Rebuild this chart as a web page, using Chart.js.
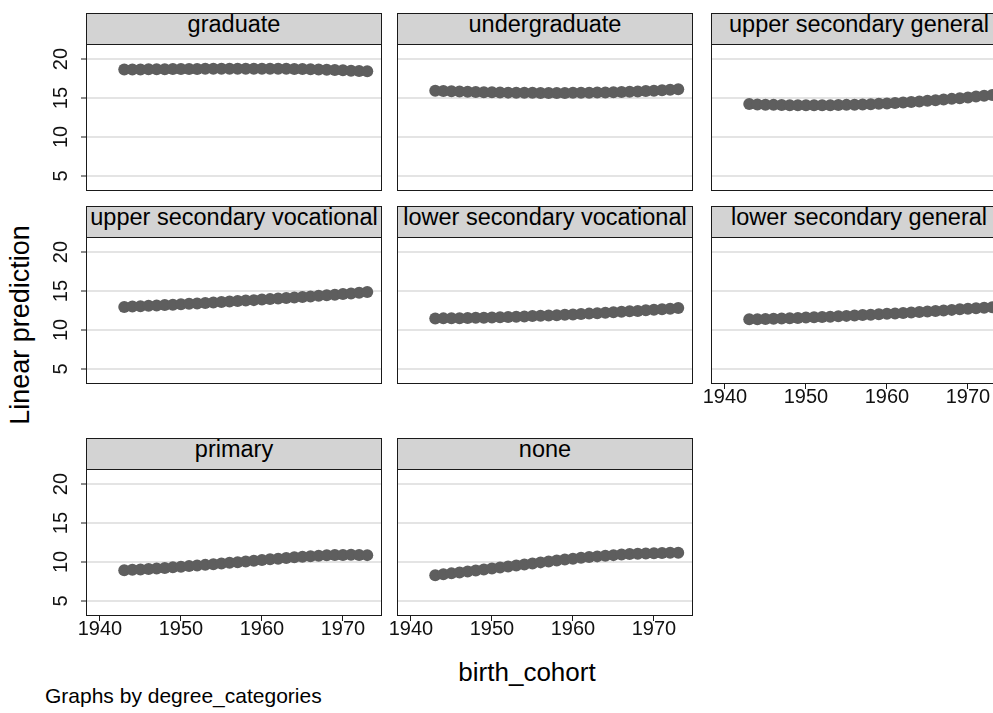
<!DOCTYPE html>
<html>
<head>
<meta charset="utf-8">
<script src="https://cdn.jsdelivr.net/npm/chart.js@4.4.1/dist/chart.umd.min.js"></script>
<style>
  html, body { margin: 0; padding: 0; background: #fff; overflow: hidden; width: 993px; height: 713px; }
  body { position: relative; font-family: "Liberation Sans", Arial, sans-serif; color: #000; }
  canvas { position: absolute; }
  .strip {
    position: absolute; box-sizing: border-box; width: 296px; height: 32px;
    background: #d3d3d3; border: 1px solid #1a1a1a;
    text-align: center; font-size: 23.5px; line-height: 20px; white-space: nowrap; overflow: hidden;
  }
  .ytitle { position: absolute; left: -180px; top: 310px; width: 400px; height: 30px; line-height: 30px;
    font-size: 27px; text-align: center; transform: rotate(-90deg); }
  .xtitle { position: absolute; left: 327px; top: 657px; width: 400px; line-height: 30px; font-size: 26px; text-align: center; }
  .note { position: absolute; left: 45px; top: 684px; line-height: 24px; font-size: 21px; white-space: nowrap; }
</style>
</head>
<body>
<div class="ytitle">Linear prediction</div>
<div class="xtitle">birth_cohort</div>
<div class="note">Graphs by degree_categories</div>
<script>
const years = [1943, 1944, 1945, 1946, 1947, 1948, 1949, 1950, 1951, 1952, 1953, 1954, 1955, 1956, 1957, 1958,
  1959, 1960, 1961, 1962, 1963, 1964, 1965, 1966, 1967, 1968, 1969, 1970, 1971, 1972, 1973];

const categories = ["graduate", "undergraduate", "upper secondary general", "upper secondary vocational",
  "lower secondary vocational", "lower secondary general", "primary", "none"];

const graduate = [18.65, 18.66, 18.67, 18.68, 18.69, 18.70, 18.71, 18.72, 18.72, 18.73, 18.74, 18.74, 18.75, 18.75, 18.76, 18.76,
  18.76, 18.76, 18.76, 18.75, 18.74, 18.73, 18.71, 18.69, 18.66, 18.63, 18.59, 18.55, 18.51, 18.47, 18.43];
const undergraduate = [15.92, 15.89, 15.86, 15.83, 15.80, 15.77, 15.75, 15.73, 15.71, 15.69, 15.68, 15.67, 15.66, 15.65, 15.65, 15.65,
  15.65, 15.66, 15.67, 15.68, 15.70, 15.72, 15.75, 15.78, 15.81, 15.85, 15.89, 15.94, 15.99, 16.05, 16.12];
const upperSecGeneral = [14.22, 14.18, 14.15, 14.12, 14.10, 14.08, 14.07, 14.06, 14.06, 14.07, 14.08, 14.10, 14.12, 14.15, 14.18, 14.21,
  14.25, 14.30, 14.36, 14.42, 14.49, 14.56, 14.64, 14.72, 14.80, 14.89, 14.98, 15.08, 15.18, 15.29, 15.40];
const upperSecVocational = [12.95, 13.00, 13.05, 13.10, 13.15, 13.20, 13.25, 13.30, 13.36, 13.41, 13.47, 13.53, 13.59, 13.65, 13.71, 13.77,
  13.83, 13.90, 13.96, 14.03, 14.10, 14.17, 14.24, 14.31, 14.38, 14.46, 14.53, 14.61, 14.69, 14.77, 14.87];
const lowerSecVocational = [11.48, 11.49, 11.50, 11.52, 11.54, 11.56, 11.58, 11.61, 11.64, 11.67, 11.70, 11.74, 11.78, 11.82, 11.86, 11.90,
  11.95, 12.00, 12.05, 12.10, 12.15, 12.21, 12.27, 12.33, 12.39, 12.45, 12.52, 12.59, 12.66, 12.73, 12.82];
const lowerSecGeneral = [11.37, 11.39, 11.42, 11.45, 11.48, 11.51, 11.55, 11.59, 11.63, 11.67, 11.71, 11.76, 11.81, 11.86, 11.91, 11.96,
  12.01, 12.07, 12.13, 12.19, 12.25, 12.31, 12.38, 12.44, 12.51, 12.58, 12.65, 12.72, 12.79, 12.86, 12.93];
const primary = [8.95, 9.00, 9.05, 9.11, 9.17, 9.24, 9.31, 9.39, 9.47, 9.55, 9.63, 9.72, 9.80, 9.89, 9.98, 10.07,
  10.16, 10.25, 10.34, 10.43, 10.52, 10.60, 10.67, 10.74, 10.80, 10.85, 10.89, 10.91, 10.92, 10.91, 10.88];
const none = [8.30, 8.42, 8.54, 8.66, 8.78, 8.91, 9.04, 9.17, 9.30, 9.43, 9.56, 9.69, 9.82, 9.95, 10.07, 10.19,
  10.31, 10.42, 10.53, 10.63, 10.72, 10.81, 10.88, 10.95, 11.01, 11.06, 11.10, 11.13, 11.16, 11.18, 11.20];

const series = [graduate, undergraduate, upperSecGeneral, upperSecVocational,
  lowerSecVocational, lowerSecGeneral, primary, none];

const xTicks = [1940, 1950, 1960, 1970];
const xTickLabels = ["1940", "1950", "1960", "1970"];
const yTicks = [5, 10, 15, 20];
const yTickLabels = ["5", "10", "15", "20"];

Chart.defaults.font.family = "'Liberation Sans', Arial, sans-serif";

// panel grid: plot rectangles in page pixels
const colLeft = [87, 398, 712];
const rowTop = [45, 238, 470];
const plotW = 294, plotH = 145;
const L = 60, B = 45, T = 2, R = 2;

const frame = {
  id: "frame",
  afterDraw(chart) {
    const a = chart.chartArea;
    const c = chart.ctx;
    c.save();
    c.strokeStyle = "#1a1a1a";
    c.lineWidth = 1;
    c.strokeRect(a.left - 0.5, a.top - 0.5, a.width + 1, a.height + 1);
    c.restore();
  }
};

categories.forEach((name, i) => {
  const row = Math.floor(i / 3), col = i % 3;
  const showY = col === 0;
  const showX = i >= 5;
  const left = colLeft[col], top = rowTop[row];

  const cv = document.createElement("canvas");
  cv.width = L + plotW + R;
  cv.height = T + plotH + B;
  cv.style.left = (left - L) + "px";
  cv.style.top = (top - T) + "px";
  document.body.appendChild(cv);

  const strip = document.createElement("div");
  strip.className = "strip";
  strip.textContent = name;
  strip.style.left = (left - 1) + "px";
  strip.style.top = (top - 32) + "px";
  document.body.appendChild(strip);

  new Chart(cv, {
    type: "scatter",
    data: {
      datasets: [{
        data: years.map((yr, k) => ({ x: yr, y: series[i][k] })),
        pointRadius: 6,
        pointBackgroundColor: "#5e5e5e",
        pointBorderWidth: 0
      }]
    },
    options: {
      responsive: false,
      animation: false,
      events: [],
      layout: { padding: { top: T, right: R, left: 0, bottom: 0 }, autoPadding: false },
      plugins: { legend: { display: false }, tooltip: { enabled: false } },
      scales: {
        x: {
          type: "linear",
          min: 1938.4,
          max: 1974.7,
          bounds: "data",
          afterBuildTicks: (s) => { s.ticks = xTicks.map((v) => ({ value: v })); },
          afterFit: (s) => { s.height = B; s.paddingLeft = 0; s.paddingRight = 0; },
          border: { display: false },
          grid: { drawOnChartArea: false, drawTicks: showX, tickLength: 6, tickColor: "#1a1a1a", tickWidth: 1 },
          ticks: {
            display: showX, autoSkip: false, minRotation: 0, maxRotation: 0, padding: -4,
            color: "#111", font: { size: 20 },
            callback: (v, k) => xTickLabels[k]
          }
        },
        y: {
          min: 3.2,
          max: 21.8,
          bounds: "data",
          afterBuildTicks: (s) => { s.ticks = yTicks.map((v) => ({ value: v })); },
          afterFit: (s) => { s.width = L; s.paddingTop = 0; s.paddingBottom = 0; },
          border: { display: false },
          grid: { color: "#e4e4e4", lineWidth: 2, drawTicks: showY, tickLength: 6, tickColor: "#1a1a1a", tickWidth: 1 },
          ticks: {
            display: showY, minRotation: 90, maxRotation: 90, crossAlign: "center", padding: 8.4,
            color: "#111", font: { size: 20 },
            callback: (v, k) => yTickLabels[k]
          }
        }
      }
    },
    plugins: [frame]
  });
});
</script>
</body>
</html>
